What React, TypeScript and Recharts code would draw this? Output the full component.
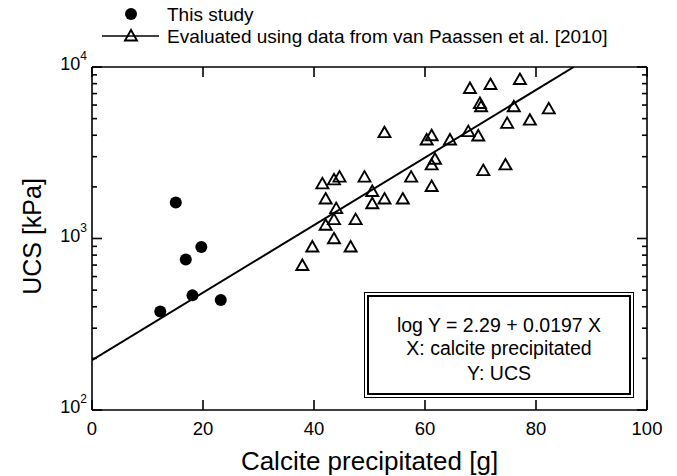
import React from "react";
import { ScatterChart, Scatter, XAxis, YAxis, Legend, Label } from "recharts";

// calcite precipitated [g] vs UCS [kPa]
const studyCalcite = [15.1, 16.9, 19.7, 18.1, 12.3, 23.2];
const studyUcs = [1620, 754, 893, 466, 375, 438];

const paassenCalcite = [
  37.9, 39.7, 43.6, 46.6, 42.1, 43.6, 44.0, 47.5, 42.1, 41.5, 43.6, 44.6, 49.1,
  50.5, 50.5, 52.7, 56.0, 57.5, 61.2, 61.2, 61.8, 52.7, 60.3, 61.2, 64.5, 67.8,
  69.6, 70.5, 74.5, 74.8, 78.9, 76.0, 82.3, 69.9, 70.1, 68.1, 71.8, 77.1,
];
const paassenUcs = [
  696, 893, 996, 893, 1194, 1288, 1493, 1288, 1698, 2083, 2198, 2280, 2280,
  1880, 1595, 1698, 1698, 2280, 2010, 2686, 2898, 4141, 3754, 3975, 3754, 4199,
  3963, 2489, 2686, 4690, 4898, 5860, 5700, 6124, 5860, 7500, 7900, 8450,
];

// fitted line end points (log Y = 2.29 + 0.0197 X)
const fitCalcite = [0, 86.8];
const fitUcs = [195, 10000];

const seriesNames = ["This study", "Evaluated using data from van Paassen et al. [2010]"];

const xTicks = [0, 20, 40, 60, 80, 100];
const yTicks = [
  100, 200, 300, 400, 500, 600, 700, 800, 900,
  1000, 2000, 3000, 4000, 5000, 6000, 7000, 8000, 9000, 10000,
];
const yMajor = [100, 1000, 10000];
const equationLines = ["log Y = 2.29 + 0.0197 X", "X: calcite precipitated", "Y: UCS"];

const FONT = "'Liberation Sans', Arial, Helvetica, sans-serif";

const toPoints = (xs: number[], ys: number[]) => xs.map((x, i) => ({ x, y: ys[i] }));
const studyData = toPoints(studyCalcite, studyUcs);
const paassenData = toPoints(paassenCalcite, paassenUcs);
const fitData = toPoints(fitCalcite, fitUcs);

const Dot = (p: any) => <circle cx={p.cx} cy={p.cy} r={6} fill="#000" />;

const Tri = (p: any) => (
  <path
    d={`M${p.cx},${p.cy - 6} L${p.cx + 6},${p.cy + 4.5} L${p.cx - 6},${p.cy + 4.5} Z`}
    fill="none"
    stroke="#000"
    strokeWidth={1.9}
  />
);

const BottomTick = (p: any) => (
  <g>
    <line x1={p.x} x2={p.x} y1={p.y} y2={p.y - 10} stroke="#000" strokeWidth={1.6} />
    <text x={p.x} y={p.y + 18} textAnchor="middle" dominantBaseline="central" fontSize={18.5} fontFamily={FONT} fill="#000">
      {p.payload.value}
    </text>
  </g>
);

const TopTick = (p: any) => (
  <line x1={p.x} x2={p.x} y1={p.y} y2={p.y + 10} stroke="#000" strokeWidth={1.6} />
);

const LeftTick = (p: any) => {
  const v = p.payload.value;
  const major = yMajor.includes(v);
  return (
    <g>
      <line x1={p.x} x2={p.x + (major ? 10 : 5)} y1={p.y} y2={p.y} stroke="#000" strokeWidth={1.6} />
      {major && (
        <text x={p.x - 5} y={p.y - 3} textAnchor="end" dominantBaseline="central" fontSize={18} fontFamily={FONT} fill="#000">
          10
          <tspan dy={-8} fontSize={12}>{Math.round(Math.log10(v))}</tspan>
        </text>
      )}
    </g>
  );
};

const RightTick = (p: any) => {
  const major = yMajor.includes(p.payload.value);
  return <line x1={p.x} x2={p.x - (major ? 10 : 5)} y1={p.y} y2={p.y} stroke="#000" strokeWidth={1.6} />;
};

const LegendContent = () => (
  <div style={{ position: "relative", height: 0 }}>
    <svg width={677} height={50} style={{ position: "absolute", left: 0, top: 0, overflow: "visible" }}>
      {seriesNames.map((name, i) => {
        const y = 14 + i * 22;
        return (
          <g key={name}>
            {i === 0 ? (
              <circle cx={131} cy={y} r={6} fill="#000" />
            ) : (
              <g>
                <line x1={102} x2={159} y1={y} y2={y} stroke="#000" strokeWidth={1.6} />
                <Tri cx={131} cy={y} />
              </g>
            )}
            <text x={167} y={y} dominantBaseline="central" fontSize={19} fontFamily={FONT} fill="#000">
              {name}
            </text>
          </g>
        );
      })}
    </svg>
  </div>
);

export default function App() {
  return (
    <div style={{ position: "absolute", left: 0, top: 0, width: 677, height: 476, background: "#fff" }}>
      <ScatterChart width={677} height={476} margin={{ top: 66, right: 29, bottom: 65, left: 91 }}>
        <XAxis
          type="number"
          dataKey="x"
          domain={[0, 100]}
          ticks={xTicks}
          interval={0}
          allowDataOverflow
          height={1}
          tickSize={0}
          tickMargin={0}
          tickLine={false}
          tick={<BottomTick />}
          axisLine={{ stroke: "#000", strokeWidth: 1.6 }}
        >
          <Label
            content={(lp: any) => {
              const vb = lp.viewBox || {};
              return (
                <text x={vb.x + vb.width / 2} y={vb.y + 51} textAnchor="middle" dominantBaseline="central" fontSize={26} fontFamily={FONT} fill="#000">
                  Calcite precipitated [g]
                </text>
              );
            }}
          />
        </XAxis>
        <XAxis
          xAxisId="top"
          orientation="top"
          type="number"
          dataKey="x"
          domain={[0, 100]}
          ticks={xTicks}
          interval={0}
          allowDataOverflow
          height={1}
          tickSize={0}
          tickMargin={0}
          tickLine={false}
          tick={<TopTick />}
          axisLine={{ stroke: "#000", strokeWidth: 1.6 }}
        />
        <YAxis
          type="number"
          dataKey="y"
          scale="log"
          domain={[100, 10000]}
          ticks={yTicks}
          interval={0}
          allowDataOverflow
          width={1}
          tickSize={0}
          tickMargin={0}
          tickLine={false}
          tick={<LeftTick />}
          axisLine={{ stroke: "#000", strokeWidth: 1.6 }}
        >
          <Label
            content={(lp: any) => {
              const vb = lp.viewBox || {};
              const cx = vb.x + vb.width - 60;
              const cy = vb.y + vb.height / 2 - 2;
              return (
                <text x={cx} y={cy} transform={`rotate(-90 ${cx} ${cy})`} textAnchor="middle" dominantBaseline="central" fontSize={25} fontFamily={FONT} fill="#000">
                  UCS [kPa]
                </text>
              );
            }}
          />
        </YAxis>
        <YAxis
          yAxisId="right"
          orientation="right"
          type="number"
          dataKey="y"
          scale="log"
          domain={[100, 10000]}
          ticks={yTicks}
          interval={0}
          allowDataOverflow
          width={1}
          tickSize={0}
          tickMargin={0}
          tickLine={false}
          tick={<RightTick />}
          axisLine={{ stroke: "#000", strokeWidth: 1.6 }}
        />
        <Legend
          verticalAlign="top"
          align="left"
          content={<LegendContent />}
          wrapperStyle={{ top: 0, left: 0, width: 677, height: 0 }}
        />
        <Scatter
          data={fitData}
          legendType="none"
          line={{ stroke: "#000", strokeWidth: 2 }}
          shape={() => <g />}
          isAnimationActive={false}
        />
        <Scatter name={seriesNames[0]} data={studyData} shape={<Dot />} isAnimationActive={false} />
        <Scatter name={seriesNames[1]} data={paassenData} shape={<Tri />} isAnimationActive={false} />
      </ScatterChart>
      <div
        style={{
          position: "absolute",
          left: 364,
          top: 292,
          width: 270,
          height: 106,
          border: "1px solid #000",
          boxSizing: "border-box",
          background: "#fff",
        }}
      >
        <div
          style={{
            position: "absolute",
            left: 2,
            top: 2,
            right: 2,
            bottom: 2,
            border: "2px solid #000",
            boxSizing: "border-box",
            fontFamily: FONT,
            fontSize: 19.5,
            color: "#000",
          }}
        >
          {equationLines.map((t, i) => (
            <div
              key={t}
              style={{
                position: "absolute",
                left: 0,
                right: 0,
                top: [16, 39, 64][i],
                lineHeight: "24px",
                textAlign: "center",
                whiteSpace: "nowrap",
              }}
            >
              {t}
            </div>
          ))}
        </div>
      </div>
    </div>
  );
}
